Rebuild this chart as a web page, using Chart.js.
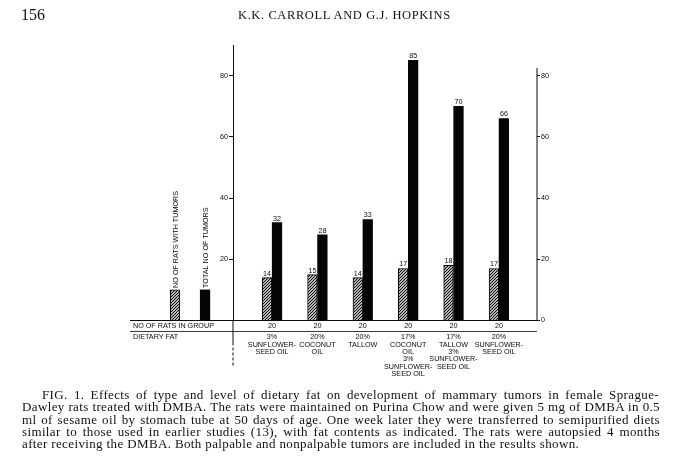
<!DOCTYPE html>
<html><head><meta charset="utf-8">
<script src="https://cdn.jsdelivr.net/npm/chart.js@4.4.1/dist/chart.umd.min.js"></script>
<style>
html,body{margin:0;padding:0;background:#fff;}
#wrap{position:relative;width:680px;height:459px;overflow:hidden;background:#fff;}
#c{position:absolute;left:0;top:0;}
.t{position:absolute;font-family:"Liberation Serif","DejaVu Serif",serif;color:#111;white-space:nowrap;}
#pg{left:21px;top:6px;font-size:16px;line-height:18px;}
#run{left:238px;top:9px;font-size:12.5px;line-height:12px;letter-spacing:0.6px;}
#cap{left:22px;top:389px;font-size:13px;line-height:12.3px;letter-spacing:0.37px;}
#cap .l{display:block;white-space:nowrap;}
</style></head>
<body>
<div id="wrap">
<canvas id="c" width="680" height="459"></canvas>
<div class="t" id="pg">156</div>
<div class="t" id="run">K.K. CARROLL AND G.J. HOPKINS</div>
<div class="t" id="cap">
<span class="l" data-w="617" style="padding-left:20px">FIG. 1. Effects of type and level of dietary fat on development of mammary tumors in female Sprague-</span>
<span class="l" data-w="638">Dawley rats treated with DMBA. The rats were maintained on Purina Chow and were given 5 mg of DMBA in 0.5</span>
<span class="l" data-w="638">ml of sesame oil by stomach tube at 50 days of age. One week later they were transferred to semipurified diets</span>
<span class="l" data-w="638">similar to those used in earlier studies (13), with fat contents as indicated. The rats were autopsied 4 months</span>
<span class="l">after receiving the DMBA. Both palpable and nonpalpable tumors are included in the results shown.</span>
</div>
</div>
<script>
// ---- data ----
const categories = [
  ['3%','SUNFLOWER-','SEED OIL'],
  ['20%','COCONUT','OIL'],
  ['20%','TALLOW'],
  ['17%','COCONUT','OIL','3%','SUNFLOWER-','SEED OIL'],
  ['17%','TALLOW','3%','SUNFLOWER-','SEED OIL'],
  ['20%','SUNFLOWER-','SEED OIL']
];
const ratsWithTumors = [14, 15, 14, 17, 18, 17];
const totalTumors = [32, 28, 33, 85, 70, 66];
const ratsInGroup = [20, 20, 20, 20, 20, 20];
const yTicks = [0, 20, 40, 60, 80];
const keyLabels = ['NO OF RATS WITH TUMORS', 'TOTAL NO OF TUMORS'];
const keyValues = [10, 10];

// ---- layout constants ----
const OFF = 0.11;           // half spacing between paired bars (x units)
const KEY_X = [-1.137, -0.476];
const INK = '#0a0a0a';
const SMALL = '7.2px "Liberation Sans", "DejaVu Sans", sans-serif';

function hatch(){
  const s = 3;
  const c = document.createElement('canvas'); c.width = s; c.height = s;
  const g = c.getContext('2d');
  g.fillStyle = '#fff'; g.fillRect(0,0,s,s);
  g.strokeStyle = '#000'; g.lineWidth = 1.1;
  g.beginPath();
  g.moveTo(0,s); g.lineTo(s,0);
  g.moveTo(-1,1); g.lineTo(1,-1);
  g.moveTo(s-1,s+1); g.lineTo(s+1,s-1);
  g.stroke();
  return g.createPattern(c,'repeat');
}
const pat = hatch();

const barBase = {grouped:false, barThickness:9.6, clip:false, borderSkipped:'start'};

// caption justification
document.querySelectorAll('#cap .l').forEach(el=>{
  if(!el.dataset.w) return;
  const target = +el.dataset.w;
  el.style.display='inline-block';
  const pad = parseFloat(el.style.paddingLeft||0);
  const w = el.getBoundingClientRect().width - pad;
  const spaces = (el.textContent.match(/ /g)||[]).length;
  el.style.wordSpacing = ((target - w)/spaces) + 'px';
  el.style.display='block';
});

const tablePlugin = {
  id:'tablePlugin',
  afterDraw(chart){
    const {ctx} = chart;
    const x = chart.scales.x, y = chart.scales.y;
    const base = y.getPixelForValue(0);
    const L = 130, R = x.right;
    ctx.save();
    ctx.strokeStyle = INK; ctx.lineWidth = 1;
    const line = (x1,y1,x2,y2)=>{ctx.beginPath();ctx.moveTo(x1,y1);ctx.lineTo(x2,y2);ctx.stroke();};
    // baseline and row rule
    line(L, base, R + 1, base);
    ctx.lineWidth = 0.8;
    line(L, base + 11, R, base + 11);
    // right axis line
    ctx.lineWidth = 1;
    line(R, y.getPixelForValue(82.5), R, base);
    // left axis extension through table
    const ax = x.left;
    line(ax, base, ax, base + 22);
    ctx.setLineDash([3,2]);
    line(ax, base + 22, ax, base + 46);
    ctx.setLineDash([]);

    ctx.fillStyle = INK;
    ctx.font = SMALL;
    ctx.textBaseline = 'middle';
    ctx.textAlign = 'left';
    ctx.fillText('NO OF RATS IN GROUP', 133, base + 5.5);
    ctx.fillText('DIETARY FAT', 133, base + 17);
    ctx.textAlign = 'center';
    ratsInGroup.forEach((n,i)=>{
      ctx.fillText(String(n), x.getPixelForValue(i+1), base + 5.5);
    });
    categories.forEach((lines,i)=>{
      const cx = x.getPixelForValue(i+1);
      lines.forEach((t,j)=>ctx.fillText(t, cx, base + 17 + j*7.3));
    });

    // value labels
    ctx.textBaseline = 'alphabetic';
    [[0, ratsWithTumors],[1, totalTumors]].forEach(([di, vals])=>{
      chart.getDatasetMeta(di).data.forEach((bar,i)=>{
        ctx.fillText(String(vals[i]), bar.x, bar.y - 2);
      });
    });

    // rotated key labels
    [2,3].forEach((di,k)=>{
      const bar = chart.getDatasetMeta(di).data[0];
      ctx.save();
      ctx.translate(bar.x + 0.5, bar.y - 2);
      ctx.rotate(-Math.PI/2);
      ctx.textAlign = 'left';
      ctx.textBaseline = 'middle';
      ctx.fillText(keyLabels[k], 0, 0);
      ctx.restore();
    });
    ctx.restore();
  }
};

const axisCommon = {
  min:0, max:90,
  afterBuildTicks(s){ s.ticks = yTicks.map(v=>({value:v})); },
  afterFit(s){ s.width = 30; },
  grid:{drawOnChartArea:false, drawTicks:true, tickLength:4, color:INK, lineWidth:1},
  ticks:{font:{size:7.2, family:'"Liberation Sans", "DejaVu Sans", sans-serif'}, color:INK, padding:1}
};

new Chart(document.getElementById('c'), {
  type:'bar',
  data:{
    datasets:[
      Object.assign({label:keyLabels[0], data: ratsWithTumors.map((v,i)=>({x:i+1-OFF, y:v})),
        backgroundColor:pat, borderColor:'#000', borderWidth:1}, barBase),
      Object.assign({label:keyLabels[1], data: totalTumors.map((v,i)=>({x:i+1+OFF, y:v})),
        backgroundColor:'#050505', borderColor:'#050505', borderWidth:0}, barBase),
      Object.assign({label:'key1', data:[{x:KEY_X[0], y:keyValues[0]}],
        backgroundColor:pat, borderColor:'#000', borderWidth:1}, barBase),
      Object.assign({label:'key2', data:[{x:KEY_X[1], y:keyValues[1]}],
        backgroundColor:'#050505', borderColor:'#050505', borderWidth:0}, barBase)
    ]
  },
  options:{
    responsive:false,
    animation:false,
    devicePixelRatio:1,
    layout:{padding:{left:203, right:113, top:45, bottom:138.5}},
    plugins:{legend:{display:false}, tooltip:{enabled:false}},
    scales:{
      x:{type:'linear', min:0.14, max:6.84, offset:false, display:false},
      y:Object.assign({}, axisCommon, {position:'left',
        border:{display:true, color:INK, width:1},
        ticks:Object.assign({}, axisCommon.ticks, {callback:v=> v===0 ? '' : String(v)})}),
      y2:Object.assign({}, axisCommon, {position:'right',
        border:{display:false},
        grid:Object.assign({}, axisCommon.grid, {tickLength:3}),
        ticks:Object.assign({}, axisCommon.ticks, {callback:v=>String(v)})})
    }
  },
  plugins:[tablePlugin]
});
</script>
</body></html>
